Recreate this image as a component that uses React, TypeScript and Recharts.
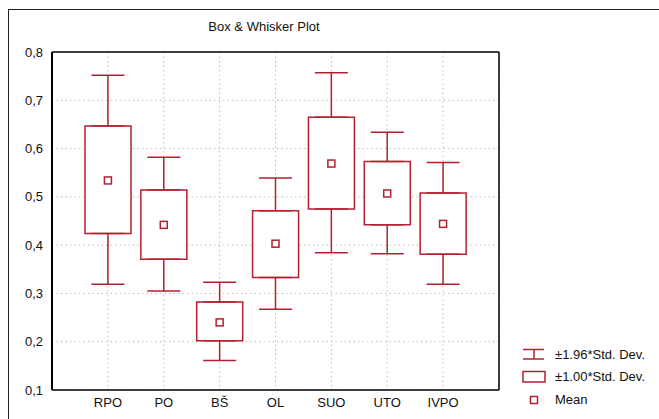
import React from 'react';
import {
  ComposedChart,
  Bar,
  Scatter,
  ErrorBar,
  XAxis,
  YAxis,
  CartesianGrid,
} from 'recharts';

const categories = ['RPO', 'PO', 'BŠ', 'OL', 'SUO', 'UTO', 'IVPO'];
const means = [0.534, 0.442, 0.24, 0.403, 0.569, 0.507, 0.444];
const boxLow = [0.424, 0.371, 0.202, 0.333, 0.475, 0.442, 0.381];
const boxHigh = [0.647, 0.514, 0.282, 0.471, 0.665, 0.573, 0.508];
const whiskLow = [0.319, 0.305, 0.161, 0.267, 0.384, 0.382, 0.319];
const whiskHigh = [0.752, 0.582, 0.323, 0.539, 0.757, 0.634, 0.571];

const yTicks = [0.1, 0.2, 0.3, 0.4, 0.5, 0.6, 0.7, 0.8];
const yMinorTicks = [
  0.1, 0.125, 0.15, 0.175, 0.2, 0.225, 0.25, 0.275, 0.3, 0.325, 0.35, 0.375,
  0.4, 0.425, 0.45, 0.475, 0.5, 0.525, 0.55, 0.575, 0.6, 0.625, 0.65, 0.675,
  0.7, 0.725, 0.75, 0.775, 0.8,
];
const title = 'Box & Whisker Plot';
const legendLabels = ['±1.96*Std. Dev.', '±1.00*Std. Dev.', 'Mean'];

const RED = '#b3202f';
const TEXT = '#111';
const FONT = '"Liberation Sans", Arial, sans-serif';

const data = categories.map((name, i) => ({
  name,
  mean: means[i],
  boxLow: boxLow[i],
  boxHigh: boxHigh[i],
  box: [boxLow[i], boxHigh[i]],
  upErr: [0, whiskHigh[i] - boxHigh[i]],
  lowErr: [boxLow[i] - whiskLow[i], 0],
}));

const fmt = (v: number) => v.toFixed(1).replace('.', ',');

const Hidden = () => <g />;
const MeanShape = (p: any) => (
  <rect x={p.cx - 3.5} y={p.cy - 3.5} width={7} height={7} fill="#fff" stroke={RED} strokeWidth={1.5} />
);

export default function App() {
  const tickStyle = { fontFamily: FONT, fontSize: 13, fill: TEXT };
  return (
    <div style={{ position: 'absolute', left: 0, top: 0, width: 659, height: 419, overflow: 'hidden', background: '#fff' }}>
      <div
        style={{
          position: 'absolute',
          left: 8,
          top: 9,
          width: 700,
          height: 500,
          borderLeft: '1px solid #222',
          borderTop: '1px solid #222',
        }}
      />
      <div
        style={{
          position: 'absolute',
          left: 164,
          top: 19,
          width: 200,
          textAlign: 'center',
          fontFamily: FONT,
          fontSize: 13,
          lineHeight: '15px',
          color: TEXT,
        }}
      >
        {title}
      </div>
      <div style={{ position: 'absolute', left: 0, top: 0 }}>
        <ComposedChart
          width={659}
          height={419}
          data={data}
          margin={{ top: 52, right: 160, bottom: 0, left: 0 }}
        >
          <CartesianGrid stroke="#bdbdbd" strokeDasharray="1.5 3" />
          <XAxis
            dataKey="name"
            type="category"
            padding={{ left: 28, right: 28 }}
            height={29}
            axisLine={{ stroke: '#000', strokeWidth: 1.5 }}
            tickLine={false}
            tickSize={0}
            tickMargin={8}
            tick={tickStyle}
            interval={0}
          />
          <XAxis
            xAxisId="top"
            dataKey="name"
            type="category"
            orientation="top"
            mirror
            height={1}
            padding={{ left: 28, right: 28 }}
            axisLine={{ stroke: '#000', strokeWidth: 1.5 }}
            tickLine={{ stroke: '#000', strokeWidth: 1.5 }}
            tickSize={3}
            tick={false}
            interval={0}
          />
          <YAxis
            type="number"
            domain={[0.1, 0.8]}
            ticks={yTicks}
            allowDataOverflow
            width={52}
            axisLine={false}
            tickLine={false}
            tickSize={0}
            tickMargin={9}
            tick={tickStyle}
            tickFormatter={fmt}
            interval={0}
          />
          <YAxis
            yAxisId="lm"
            type="number"
            orientation="left"
            mirror
            width={1}
            domain={[0.1, 0.8]}
            ticks={yMinorTicks}
            allowDataOverflow
            axisLine={{ stroke: '#000', strokeWidth: 2 }}
            tickLine={{ stroke: '#000', strokeWidth: 1.5 }}
            tickSize={3}
            tick={false}
            interval={0}
          />
          <YAxis
            yAxisId="rm"
            type="number"
            orientation="right"
            mirror
            width={1}
            domain={[0.1, 0.8]}
            ticks={yMinorTicks}
            allowDataOverflow
            axisLine={{ stroke: '#000', strokeWidth: 1.5 }}
            tickLine={{ stroke: '#000', strokeWidth: 1.5 }}
            tickSize={3}
            tick={false}
            interval={0}
          />
          <Scatter dataKey="boxHigh" shape={Hidden} isAnimationActive={false}>
            <ErrorBar dataKey="upErr" direction="y" width={16.5} stroke={RED} strokeWidth={1.5} isAnimationActive={false} />
          </Scatter>
          <Scatter dataKey="boxLow" shape={Hidden} isAnimationActive={false}>
            <ErrorBar dataKey="lowErr" direction="y" width={16.5} stroke={RED} strokeWidth={1.5} isAnimationActive={false} />
          </Scatter>
          <Bar
            dataKey="box"
            barSize={46}
            fill="#fff"
            stroke={RED}
            strokeWidth={1.5}
            isAnimationActive={false}
          />
          <Scatter dataKey="mean" shape={MeanShape} isAnimationActive={false} />
        </ComposedChart>
      </div>
      <svg style={{ position: 'absolute', left: 0, top: 0 }} width={659} height={419}>
        <g stroke={RED} strokeWidth={1.5} fill="#fff">
          <line x1={523} y1={349.5} x2={544} y2={349.5} />
          <line x1={523} y1={359} x2={544} y2={359} />
          <line x1={534} y1={349.5} x2={534} y2={359} />
          <rect x={523} y={371.5} width={22} height={10.5} />
          <rect x={530.5} y={396.5} width={7} height={7} />
        </g>
        <g fontFamily={FONT} fontSize={13} fill={TEXT}>
          <text x={555} y={354} dy="0.355em">{legendLabels[0]}</text>
          <text x={555} y={376.5} dy="0.355em">{legendLabels[1]}</text>
          <text x={555} y={399.5} dy="0.355em">{legendLabels[2]}</text>
        </g>
      </svg>
    </div>
  );
}
